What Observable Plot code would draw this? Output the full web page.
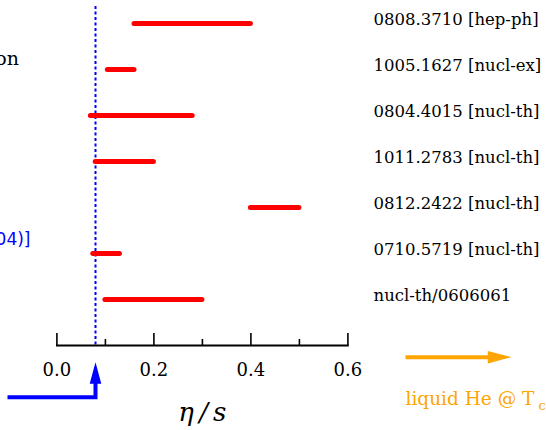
<!DOCTYPE html>
<html>
<head>
<meta charset="utf-8">
<script src="https://cdn.jsdelivr.net/npm/d3@7"></script>
<script src="https://cdn.jsdelivr.net/npm/@observablehq/plot@0.6"></script>
<style>
  html, body { margin: 0; padding: 0; background: white; }
  #chart svg { display: block; overflow: hidden; }
</style>
</head>
<body>
<div id="chart"></div>
<script>
// Ranges of η/s extracted in several analyses, labelled by arXiv number
const refs = [
  "0808.3710 [hep-ph]",
  "1005.1627 [nucl-ex]",
  "0804.4015 [nucl-th]",
  "1011.2783 [nucl-th]",
  "0812.2422 [nucl-th]",
  "0710.5719 [nucl-th]",
  "nucl-th/0606061"
];
const low  = [0.16, 0.105, 0.07, 0.08, 0.40, 0.075, 0.10];
const high = [0.40, 0.16,  0.28, 0.20, 0.50, 0.13,  0.30];

// Conjectured lower bound 1/(4π)
const kssBound = 0.0796;

const majorTicks = [0, 0.2, 0.4, 0.6];
const minorTicks = [0.1, 0.3, 0.5];

const boundNote = "AdS/CFT calculation";
const boundCitation = "[Kovtun, Son, Starinets (2004)]";
const heliumLabel = "liquid He @ T";
const heliumSub = "c";
const axisLabel = "η\u2009/\u2009s";

const rows = refs.map((ref, i) => ({ref, low: low[i], high: high[i]}));

// Filled arrow drawn along the vector direction (0,0) → (0,-l)
function straightArrow(shaft, headHalf, headLen) {
  return {
    draw(ctx, l) {
      const b = -(l - headLen);
      ctx.moveTo(-shaft, 0);
      ctx.lineTo(-shaft, b);
      ctx.lineTo(-headHalf, b);
      ctx.lineTo(0, -l);
      ctx.lineTo(headHalf, b);
      ctx.lineTo(shaft, b);
      ctx.lineTo(shaft, 0);
      ctx.closePath();
    }
  };
}

// Arrow with a horizontal tail coming in from the left, then turning up
function elbowArrow(tail, shaft, headHalf, headLen) {
  return {
    draw(ctx, l) {
      const b = -(l - headLen);
      ctx.moveTo(-tail, shaft);
      ctx.lineTo(shaft, shaft);
      ctx.lineTo(shaft, b);
      ctx.lineTo(headHalf, b);
      ctx.lineTo(0, -l);
      ctx.lineTo(-headHalf, b);
      ctx.lineTo(-shaft, b);
      ctx.lineTo(-shaft, -shaft);
      ctx.lineTo(-tail, -shaft);
      ctx.closePath();
    }
  };
}

const serif = "DejaVu Serif";

const chart = Plot.plot({
  width: 546,
  height: 430,
  marginLeft: 56.4,
  marginRight: 198.6,
  marginTop: 6,
  marginBottom: 85,
  style: {fontFamily: serif, background: "white", color: "black"},
  x: {domain: [0, 0.6], axis: null},
  y: {type: "point", domain: refs, range: [22.3, 300.3], padding: 0, axis: null},
  marks: [
    // bound line
    Plot.ruleX([kssBound], {stroke: "blue", strokeWidth: 2, strokeDasharray: "3,2.5"}),
    // axis line and ticks (pointing up)
    Plot.frame({anchor: "bottom", stroke: "black", strokeWidth: 1.8}),
    Plot.ruleX(majorTicks, {stroke: "black", strokeWidth: 1.6, insetTop: 327}),
    Plot.ruleX(minorTicks, {stroke: "black", strokeWidth: 1.6, insetTop: 333}),
    Plot.text(majorTicks, {
      x: d => d, text: d => d.toFixed(1),
      frameAnchor: "bottom", lineAnchor: "bottom", dy: 30,
      fontSize: 18, fill: "black"
    }),
    Plot.text([axisLabel], {
      x: () => 0.3, text: d => d,
      frameAnchor: "bottom", lineAnchor: "bottom", dy: 75,
      fontSize: 26, fontStyle: "italic", fill: "black"
    }),
    // η/s ranges
    Plot.ruleY(rows, {
      y: "ref", x1: "low", x2: "high",
      stroke: "red", strokeWidth: 5, strokeLinecap: "round"
    }),
    Plot.text(refs, {
      y: d => d, text: d => d,
      frameAnchor: "right", dx: 25.6, dy: 1,
      textAnchor: "start", lineAnchor: "bottom",
      fontSize: 16.5, fill: "black"
    }),
    // notes on the bound
    Plot.text([boundNote], {
      text: d => d, frameAnchor: "top-left", dx: -37.9, dy: 58,
      textAnchor: "end", lineAnchor: "bottom", fontSize: 19, fill: "black"
    }),
    Plot.text([boundCitation], {
      text: d => d, frameAnchor: "top-left", dx: -26.4, dy: 238,
      textAnchor: "end", lineAnchor: "bottom", fontSize: 17,
      fontFamily: "DejaVu Sans", fill: "blue"
    }),
    Plot.vector([kssBound], {
      x: d => d, frameAnchor: "bottom", dy: 51.7,
      anchor: "start", length: 35, rotate: 0,
      shape: elbowArrow(88, 2, 5.8, 21.6),
      fill: "blue", stroke: "none"
    }),
    // liquid helium comparison
    Plot.vector([heliumLabel], {
      frameAnchor: "bottom-right", dx: 57.6, dy: 11.7,
      anchor: "start", length: 106, rotate: 90,
      shape: straightArrow(2, 6.3, 23.7),
      fill: "orange", stroke: "none"
    }),
    Plot.text([heliumLabel], {
      text: d => d, frameAnchor: "bottom-right", dx: 57.6, dy: 59,
      textAnchor: "start", lineAnchor: "bottom", fontSize: 18.5, fill: "orange"
    }),
    Plot.text([heliumSub], {
      text: d => d, frameAnchor: "bottom-right", dx: 190.6, dy: 64,
      textAnchor: "start", lineAnchor: "bottom", fontSize: 13, fill: "orange"
    })
  ]
});

document.getElementById("chart").appendChild(chart);
</script>
</body>
</html>
